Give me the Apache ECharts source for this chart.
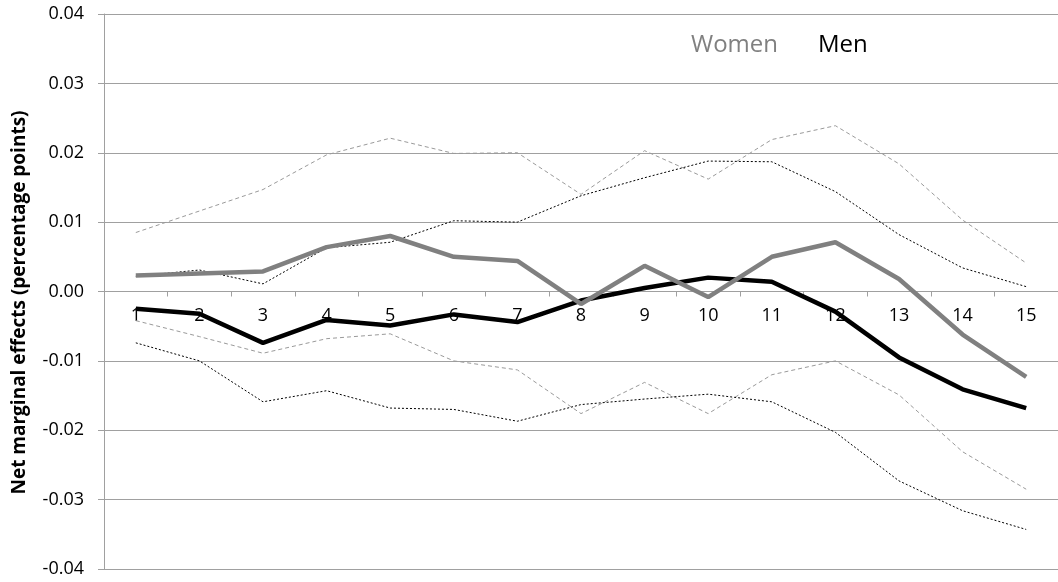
<!DOCTYPE html>
<html>
<head>
<meta charset="utf-8">
<script src="https://cdn.jsdelivr.net/npm/echarts@6/dist/echarts.min.js"></script>
<style>
  html, body { margin: 0; padding: 0; background: #fff; }
  #myChart { width: 1058px; height: 582px; }
</style>
</head>
<body>
<div id="myChart"></div>
<script>
// categories 1..15
var categories = ['1','2','3','4','5','6','7','8','9','10','11','12','13','14','15'];

// point estimates
var women = [0.0023, 0.0026, 0.0029, 0.0064, 0.0080, 0.0050, 0.0044, -0.0018, 0.0037, -0.0008, 0.0050, 0.0071, 0.0018, -0.0062, -0.0123];
var men = [-0.0025, -0.0032, -0.0074, -0.0041, -0.0049, -0.0033, -0.0044, -0.0013, 0.0005, 0.0020, 0.0014, -0.0029, -0.0095, -0.0141, -0.0168];

// confidence bands
var womenUpper = [0.0085, 0.0116, 0.0147, 0.0197, 0.0221, 0.0199, 0.0200, 0.0140, 0.0203, 0.0162, 0.0219, 0.0239, 0.0184, 0.0103, 0.0041];
var womenLower = [-0.0042, -0.0065, -0.0089, -0.0068, -0.0061, -0.0100, -0.0113, -0.0176, -0.0131, -0.0176, -0.0120, -0.0100, -0.0149, -0.0231, -0.0285];
var menUpper = [0.0022, 0.0031, 0.0011, 0.0063, 0.0071, 0.0102, 0.0100, 0.0138, 0.0164, 0.0188, 0.0187, 0.0144, 0.0082, 0.0034, 0.0007];
var menLower = [-0.0074, -0.0100, -0.0159, -0.0143, -0.0168, -0.0170, -0.0187, -0.0163, -0.0155, -0.0148, -0.0159, -0.0203, -0.0273, -0.0316, -0.0343];

var fontFam = '"Open Sans", sans-serif';
var gridColor = '#a0a0a0';
var gridTop = 14, gridHeight = 555;

function band(data, color, dash) {
  return {
    type: 'line',
    data: data,
    symbol: 'none',
    silent: true,
    lineStyle: { color: color, width: 1, type: dash }
  };
}

var option = {
  animation: false,
  backgroundColor: '#fff',
  textStyle: { fontFamily: fontFam },
  legend: {
    left: 681,
    top: 28,
    itemWidth: 0,
    itemHeight: 0,
    itemGap: 35,
    textStyle: { fontSize: 24, fontFamily: fontFam },
    data: [
      { name: 'Women', icon: 'none', textStyle: { color: '#808080' } },
      { name: 'Men', icon: 'none', textStyle: { color: '#000' } }
    ]
  },
  grid: { left: 104, top: gridTop, width: 960, height: gridHeight },
  xAxis: {
    type: 'category',
    data: categories,
    boundaryGap: true,
    // put the axis at y = 0 (middle of the -0.04..0.04 range)
    offset: -gridHeight / 2,
    axisLine: { onZero: false, lineStyle: { color: gridColor, width: 1 } },
    axisTick: { show: true, length: 5, lineStyle: { color: gridColor } },
    axisLabel: { color: '#000', fontSize: 18, margin: 15, fontFamily: fontFam },
    splitLine: { show: false }
  },
  yAxis: {
    type: 'value',
    min: -0.04,
    max: 0.04,
    interval: 0.01,
    name: 'Net marginal effects (percentage points)',
    nameLocation: 'middle',
    nameGap: 75,
    nameTextStyle: {
      fontSize: 19, fontWeight: 'bold', color: '#000', fontFamily: fontFam,
      padding: [0, 22, 0, 0]
    },
    axisLine: { show: true, lineStyle: { color: gridColor, width: 1 } },
    axisTick: { show: true, length: 6, lineStyle: { color: gridColor } },
    axisLabel: {
      color: '#000', fontSize: 18, margin: 20, fontFamily: fontFam,
      formatter: function (v) { return v.toFixed(2); }
    },
    splitLine: { show: true, lineStyle: { color: gridColor, width: 1 } }
  },
  series: [
    band(womenUpper, '#9a9a9a', [4, 3]),
    band(womenLower, '#9a9a9a', [4, 3]),
    band(menUpper, '#000', [2, 2]),
    band(menLower, '#000', [2, 2]),
    {
      name: 'Men',
      type: 'line',
      data: men,
      symbol: 'none',
      lineStyle: { color: '#000', width: 4.5 },
      itemStyle: { color: '#000' }
    },
    {
      name: 'Women',
      type: 'line',
      data: women,
      symbol: 'none',
      lineStyle: { color: '#808080', width: 4.5 },
      itemStyle: { color: '#808080' }
    }
  ]
};

var myChart = echarts.init(document.getElementById('myChart'));
myChart.setOption(option);
</script>
</body>
</html>
